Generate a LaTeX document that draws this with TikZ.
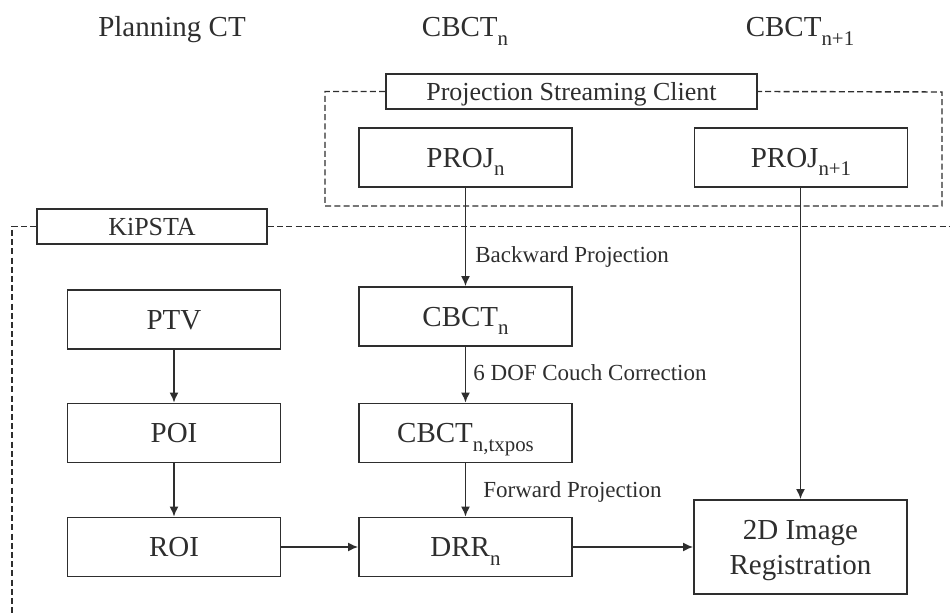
\documentclass[tikz,border=0pt]{standalone}
\usepackage{fontspec}
\setmainfont{Liberation Serif}
\usetikzlibrary{arrows.meta}
\definecolor{ink}{gray}{0.18}
\newcommand{\lowtxt}[1]{\raisebox{-0.3em}{\scalebox{0.72}{#1}}}
\tikzset{
	box/.style={draw=ink, text=ink, line width=0.9pt, minimum width=106.5pt, minimum height=29.5pt, inner sep=0pt, text height=9.6pt, text depth=0pt, font=\fontsize{14.5}{17.5}\selectfont},
	tagbox/.style={draw=ink, text=ink, line width=0.9pt, minimum height=17.5pt, inner sep=0pt, text height=8.6pt, text depth=0pt, font=\fontsize{13}{15}\selectfont},
	frame/.style={draw=ink, line width=0.7pt, dash pattern=on 3pt off 1.6pt},
	flow/.style={draw=ink, line width=0.8pt, -{Latex[length=5pt,width=4.5pt]}},
	lbl/.style={anchor=west, inner sep=0pt, text=ink, font=\fontsize{11.5}{13}\selectfont},
	title/.style={anchor=base, inner sep=0pt, text=ink, font=\fontsize{14.5}{17}\selectfont}
}
\begin{document}
\begin{tikzpicture}[x=0.5pt, y=-0.5pt]
	\useasboundingbox (0,0) rectangle (950,614);
	% 1. 顶部标题
	\node[title] (ptitle) at (172,37) {Planning CT};
	\node[title] (ctitle) at (465,37) {CBCT\lowtxt{n}};
	\node[title] (c1title) at (800,37) {CBCT\lowtxt{n+1}};
	
	% 2. 投影流客户端
	\node[tagbox, minimum width=185.5pt] (psc) at (571.5,91.5) {Projection Streaming Client};
	\node[box] (projn) at (465.5,157.5) {PROJ\lowtxt{n}};
	\node[box] (projm) at (801,157.5) {PROJ\lowtxt{n+1}};
	\draw[frame] (psc.west) -| (325,206) -| (942,92) -- (psc.east);
	
	% 3. KiPSTA 区域
	\node[tagbox, minimum width=115pt] (kipsta) at (152,226.5) {KiPSTA};
	\draw[frame] (kipsta.west) -- (12,226.5) -- (12,614);
	\draw[frame] (kipsta.east) -- (950,226.5);
	
	\node[box] (ptv) at (174,319.5) {PTV};
	\node[box] (poi) at (174,433) {POI};
	\node[box] (roi) at (174,547) {ROI};
	\node[box] (cbct) at (465.5,316.5) {CBCT\lowtxt{n}};
	\node[box] (cbctx) at (465.5,433) {CBCT\lowtxt{n,txpos}};
	\node[box] (drr) at (465.5,547) {DRR\lowtxt{n}};
	\node[box, minimum height=47pt, align=center, text height=27.1pt] (reg) at (800.5,547) {2D Image\\Registration};
	
	% 4. 箭头与标注
	\draw[flow] (projn) -- (cbct);
	\draw[flow] (cbct) -- (cbctx);
	\draw[flow] (cbctx) -- (drr);
	\draw[flow] (ptv) -- (poi);
	\draw[flow] (poi) -- (roi);
	\draw[flow] (roi) -- (drr);
	\draw[flow] (drr) -- (reg);
	\draw[flow] (projm.south -| reg) -- (reg);
	\node[lbl] (bp) at (475,257) {Backward Projection};
	\node[lbl] (dof) at (473,373) {6 DOF Couch Correction};
	\node[lbl] (fp) at (483,492) {Forward Projection};
\end{tikzpicture}
\end{document}
